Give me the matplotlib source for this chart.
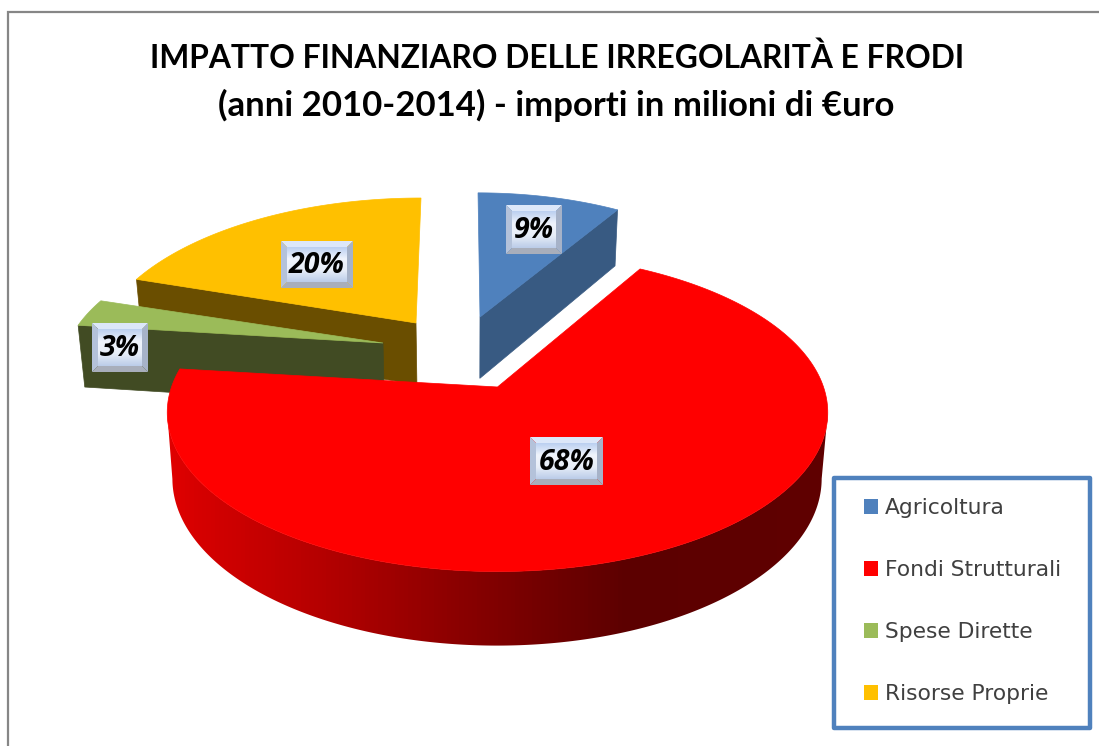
import numpy as np
import matplotlib
matplotlib.use("Agg")
import matplotlib.pyplot as plt
from matplotlib.patches import Patch, Polygon, Rectangle
from matplotlib.colors import LinearSegmentedColormap

# ---- data ----
categories = ["Agricoltura", "Fondi Strutturali", "Spese Dirette", "Risorse Proprie"]
shares = [9, 68, 3, 20]
share_labels = ["9%", "68%", "3%", "20%"]
title_lines = ["IMPATTO FINANZIARO DELLE IRREGOLARITÀ E FRODI",
               "(anni 2010-2014) - importi in milioni di €uro"]

# ---- style ----
top_colors = ["#4f81bd", "#ff0000", "#9bbb59", "#ffc000"]
face_colors = ["#385a82", "#600000", "#414b23", "#6a4e00"]
# apex x, apex y, r, q, p, shear, back-warp (perspective of each exploded slice, in pixels)
slice_geom = [(480, 317, 295, 144, 0.16, -0.016, 0.0),
              (497.5, 387, 326, 155, 0.16, 0.0, 3.0),
              (383, 343, 315, 145, 0.20, 0.0, 0.0),
              (416, 323, 314, 150, 0.20, 0.04, 0.0)]
label_boxes = [(506, 205, 56, 49), (530, 437, 73, 48), (92, 323, 56, 49), (281, 241, 72, 47)]

fig = plt.figure(figsize=(10.99, 7.46), dpi=100, facecolor="white")
ax = fig.add_axes([0, 0, 1, 1])
ax.axis("off")


def top_pt(theta, geom):
    ax0, ay0, r, q, p, k, warp = geom
    theta = theta - np.radians(warp) * np.maximum(0, np.cos(theta))
    u, v = np.sin(theta), np.cos(theta)
    w = 1 + p * v
    X = r * u / w
    Y = q * v / w
    return ax0 + X + k * Y, ay0 - Y


def lower(x, y):
    """The same point on the underside of the pie."""
    return 470 + (x - 470) * 0.983, y + 58 + (y - 250) * 0.05


fracs = np.array(shares, float) / np.sum(shares)
edges = np.concatenate([[0], np.cumsum(fracs)]) * 2 * np.pi
face_edge = {0: 1, 2: 0, 3: 0}
wall_stops_x = [165, 193, 324, 454, 541, 628, 830]
wall_stops_r = [225, 215, 180, 140, 115, 92, 96]
wall_cmap = LinearSegmentedColormap.from_list(
    "wall", [(x / 1099, (np.interp(x, wall_stops_x, wall_stops_r) / 255, 0, 0))
             for x in [0] + wall_stops_x + [1099]])

for i in [3, 2, 0, 1]:
    g = slice_geom[i]
    t = np.linspace(edges[i], edges[i + 1], 400)
    ox, oy = top_pt(t, g)
    if i in face_edge:
        e = edges[i + face_edge[i]]
        x1, y1 = top_pt(e, g)
        x0, y0 = g[0], g[1]
        bx1, by1 = lower(x1, y1)
        bx0, by0 = lower(x0, y0)
        ax.add_patch(Polygon([(x1, y1), (x0, y0), (bx0, by0), (bx1, by1)],
                             closed=True, fc=face_colors[i], ec=face_colors[i], lw=0.5))
    if i == 1:
        # the wall runs between the two horizontal extremes of the rim
        a, b = int(np.argmax(ox)), int(np.argmin(ox)) + 1
        wx, wy = ox[a:b], oy[a:b]
        lx, ly = lower(wx, wy)
        wall = Polygon(list(zip(wx, wy)) + list(zip(lx[::-1], ly[::-1])),
                       closed=True, fc="none", ec="none", transform=ax.transData)
        ax.add_patch(wall)
        im = ax.imshow(np.linspace(0, 1, 1099)[None, :], cmap=wall_cmap, aspect="auto",
                       extent=(0, 1099, 746, 0), vmin=0, vmax=1)
        im.set_clip_path(wall)
    pts = [(g[0], g[1])] + list(zip(ox, oy))
    ax.add_patch(Polygon(pts, closed=True, fc=top_colors[i], ec=top_colors[i], lw=0.5))

# ---- bevelled data labels ----
grad = LinearSegmentedColormap.from_list("g", ["#bcd0f0", "#f0f4fc", "#e8eef8", "#bccde9"])
for (x, y, w, h), s in zip(label_boxes, share_labels):
    b = 6
    ax.add_patch(Polygon([(x, y), (x + w, y), (x + w - b, y + b), (x + b, y + b)], fc="#dce7f9", ec="none", zorder=5))
    ax.add_patch(Polygon([(x, y), (x + b, y + b), (x + b, y + h - b), (x, y + h)], fc="#b4c2da", ec="none", zorder=5))
    ax.add_patch(Polygon([(x + w, y), (x + w - b, y + b), (x + w - b, y + h - b), (x + w, y + h)], fc="#a6b2c8", ec="none", zorder=5))
    ax.add_patch(Polygon([(x, y + h), (x + b, y + h - b), (x + w - b, y + h - b), (x + w, y + h)], fc="#a8aebb", ec="none", zorder=5))
    ax.imshow(np.linspace(0, 1, 32)[:, None], cmap=grad, aspect="auto",
              extent=(x + b, x + w - b, y + h - b, y + b), zorder=5.1)
    ax.text(x + w / 2, y + h / 2 + 1, s, ha="center", va="center", fontsize=20.5,
            family="Open Sans", weight="bold", style="italic", color="black", zorder=6)

ax.set_xlim(0, 1099)
ax.set_ylim(746, 0)

# ---- picture frame ----
ax.plot([8, 8, 1099], [746, 12, 12], color="#868686", lw=1.6, solid_joinstyle="miter")

# ---- title ----
ax.text(557, 58, title_lines[0], ha="center", va="center", fontsize=22.85,
        family="Lato", weight="bold", color="black")
ax.text(556, 105, title_lines[1], ha="center", va="center", fontsize=25,
        family="Lato", weight="bold", color="black")

# ---- legend ----
ax.add_patch(Rectangle((834, 478), 256, 250, fc="white", ec="#4f81bd", lw=3.2,
                       joinstyle="round", zorder=7))
handles = [Patch(fc=c, ec="none") for c in top_colors]
leg = ax.legend(handles, categories, loc="upper left", bbox_to_anchor=(864 / 1099, 1 - 498 / 746),
                bbox_transform=ax.transAxes, frameon=False, borderpad=0, borderaxespad=0,
                handlelength=0.64, handleheight=0.64, handletextpad=0.32, labelspacing=1.93,
                prop={"family": "DejaVu Sans", "size": 15.7}, labelcolor="#404040")
leg.set_zorder(8)

fig.savefig("out.png", dpi=100)
